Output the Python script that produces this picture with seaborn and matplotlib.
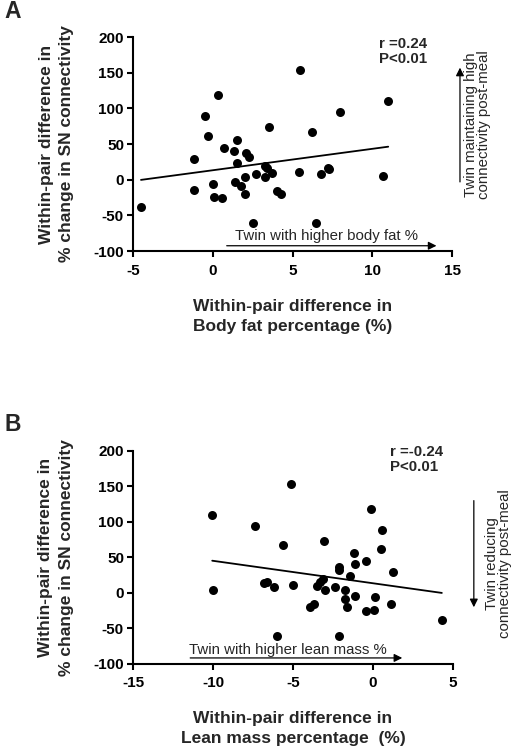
import numpy as np
import matplotlib
matplotlib.use("Agg")
import matplotlib.pyplot as plt
import seaborn as sns

# within-pair differences (same twin pairs in both panels)
body_fat_diff = [-4.5, -1.2, -1.2, -0.5, -0.3, 0.3, 0.0, 0.1, 0.6, 0.7,
                 1.3, 1.5, 1.5, 1.4, 1.8, 2.0, 2.0, 2.1, 2.3, 2.5,
                 2.7, 3.3, 3.4, 3.3, 3.5, 3.7, 4.0, 4.3, 5.4, 5.5,
                 6.2, 6.5, 6.8, 7.3, 7.2, 8.0, 10.7, 11.0]
lean_mass_diff = [4.3, 1.25, 1.1, 0.55, 0.5, -0.15, 0.15, 0.05, -0.45, -0.45,
                  -1.15, -1.2, -1.45, -1.1, -1.75, -1.75, -1.6, -2.1, -2.1, -2.15,
                  -2.35, -3.1, -3.3, -3.0, -3.05, -3.5, -3.7, -3.95, -5.0, -5.15,
                  -5.6, -6.0, -6.2, -6.8, -6.6, -7.4, -10.0, -10.05]
sn_change_diff = [-38.7, 29.5, -14.9, 89.3, 61.7, 118.8, -5.6, -23.8, -25.7, 44.5,
                  40.3, 55.7, 23.4, -3.7, -8.4, 3.8, -20.1, 37.0, 32.3, -60.7,
                  8.4, 19.6, 16.0, 3.8, 73.9, 9.8, -15.8, -20.1, 10.8, 153.9,
                  66.9, -61.2, 8.0, 14.6, 16.0, 95.0, 4.8, 110.4]

sns.set_style("ticks")
plt.rcParams['font.family'] = ['Liberation Sans', 'DejaVu Sans']
plt.rcParams['axes.unicode_minus'] = False

fig = plt.figure(figsize=(5.13, 7.5), dpi=100)
axA = fig.add_axes([0.2593, 0.6653, 0.6218, 0.2853])
axB = fig.add_axes([0.2593, 0.1147, 0.6238, 0.2840])

ylab = "Within-pair difference in\n% change in SN connectivity"
note_size = 10.8


def style_axis(ax, xlim, xticks):
    ax.set_xlim(*xlim)
    ax.set_ylim(-100, 200)
    ax.set_xticks(xticks)
    ax.set_yticks([-100, -50, 0, 50, 100, 150, 200])
    for s in ['top', 'right']:
        ax.spines[s].set_visible(False)
    for s in ['left', 'bottom']:
        ax.spines[s].set_linewidth(1.5)
        ax.spines[s].set_color('black')
    ax.tick_params(axis='both', length=4, width=1.5, color='black',
                   labelsize=11, labelcolor='black')
    ax.tick_params(axis='y', pad=2.5)
    ax.tick_params(axis='x', pad=5)
    for lab in ax.get_xticklabels() + ax.get_yticklabels():
        lab.set_fontweight('bold')
    ax.set_ylabel(ylab, fontsize=12.5, fontweight='bold', linespacing=1.45)
    ax.yaxis.set_label_coords(-0.185, 0.5)


def arrow(ax, start, end):
    ax.annotate("", xy=end, xytext=start,
                arrowprops=dict(arrowstyle='-|>', color='black', lw=0.9,
                                mutation_scale=12), annotation_clip=False)


# Panel A
sns.regplot(x=body_fat_diff, y=sn_change_diff, ci=None, ax=axA,
            scatter_kws=dict(s=42, color='black', linewidths=0, alpha=1),
            line_kws=dict(color='black', lw=1.3))
style_axis(axA, (-5, 15), [-5, 0, 5, 10, 15])
axA.set_xlabel("Within-pair difference in\nBody fat percentage (%)",
               fontsize=12.5, fontweight='bold', va='top', linespacing=1.4)
axA.xaxis.set_label_coords(0.5, -0.225)
axA.text(10.45, 200, "r =0.24\nP<0.01", fontsize=note_size, fontweight='bold',
         va='top', ha='left', linespacing=1.1)
axA.text(7.1, -79, "Twin with higher body fat %", fontsize=note_size,
         ha='center', va='center')
arrow(axA, (0.7, -92.6), (14.2, -92.6))
arrow(axA, (15.5, -7), (15.5, 161))
axA.text(16.6, 77, "Twin maintaining high\nconnectivity post-meal",
         fontsize=note_size, rotation=90, ha='center', va='center',
         multialignment='center', clip_on=False, linespacing=0.95)
fig.text(0.008, 0.984, "A", fontsize=16.5, fontweight='bold', va='center')

# Panel B
sns.regplot(x=lean_mass_diff, y=sn_change_diff, ci=None, ax=axB,
            scatter_kws=dict(s=42, color='black', linewidths=0, alpha=1),
            line_kws=dict(color='black', lw=1.3))
style_axis(axB, (-15, 5), [-15, -10, -5, 0, 5])
axB.set_xlabel("Within-pair difference in\nLean mass percentage  (%)",
               fontsize=12.5, fontweight='bold', va='top', linespacing=1.4)
axB.xaxis.set_label_coords(0.5, -0.22)
axB.text(1.05, 208, "r =-0.24\nP<0.01", fontsize=note_size, fontweight='bold',
         va='top', ha='left', linespacing=1.1)
axB.text(-5.3, -80, "Twin with higher lean mass %", fontsize=note_size,
         ha='center', va='center')
arrow(axB, (-11.6, -91.5), (2.0, -91.5))
arrow(axB, (6.3, 134), (6.3, -24))
axB.text(7.85, 42, "Twin reducing\nconnectivity post-meal",
         fontsize=note_size, rotation=90, ha='center', va='center',
         multialignment='center', clip_on=False, linespacing=0.95)
fig.text(0.008, 0.434, "B", fontsize=16.5, fontweight='bold', va='center')

fig.savefig("out.png", dpi=100)
